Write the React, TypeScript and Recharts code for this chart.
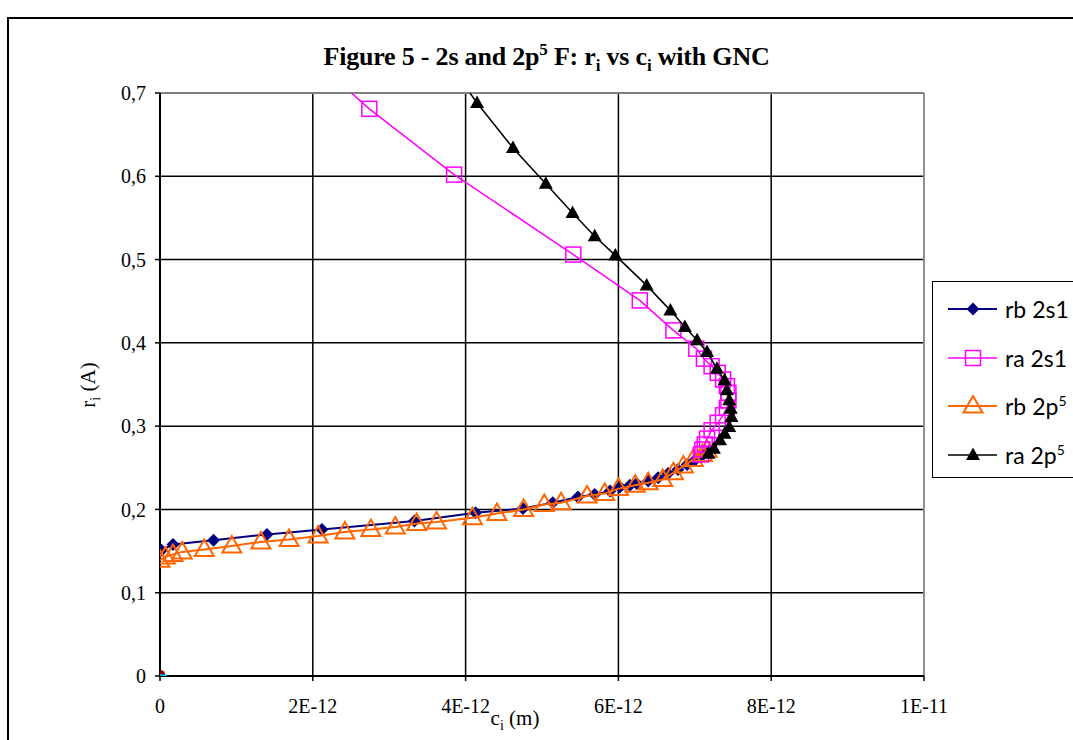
import {
	CartesianGrid,
	ComposedChart,
	ReferenceLine,
	Scatter,
	XAxis,
	YAxis,
} from "recharts";

// c in metres, r in Angstrom
const rb2s1C = [0.02e-12, 0.17e-12, 0.7e-12, 1.4e-12, 2.12e-12, 3.33e-12, 4.13e-12, 4.75e-12, 5.14e-12, 5.47e-12, 5.69e-12, 5.89e-12, 6.02e-12, 6.15e-12, 6.24e-12, 6.39e-12, 6.52e-12, 6.65e-12, 6.78e-12, 6.9e-12, 7.0e-12, 7.1e-12, 7.18e-12];
const rb2s1R = [0.151, 0.158, 0.163, 0.17, 0.176, 0.186, 0.196, 0.201, 0.208, 0.215, 0.218, 0.222, 0.227, 0.229, 0.231, 0.234, 0.238, 0.243, 0.248, 0.254, 0.259, 0.265, 0.27];

const ra2s1C = [7.08e-12, 7.1e-12, 7.13e-12, 7.16e-12, 7.22e-12, 7.3e-12, 7.37e-12, 7.42e-12, 7.44e-12, 7.44e-12, 7.42e-12, 7.37e-12, 7.3e-12, 7.22e-12, 7.12e-12, 7.02e-12, 6.72e-12, 6.28e-12, 5.41e-12, 3.85e-12, 2.74e-12, 1.95e-12];
const ra2s1R = [0.266, 0.272, 0.278, 0.285, 0.295, 0.304, 0.313, 0.322, 0.331, 0.34, 0.348, 0.356, 0.364, 0.372, 0.381, 0.393, 0.415, 0.451, 0.506, 0.602, 0.681, 0.745];

const rb2p5C = [0, 0.07e-12, 0.17e-12, 0.29e-12, 0.58e-12, 0.94e-12, 1.32e-12, 1.69e-12, 2.07e-12, 2.42e-12, 2.76e-12, 3.08e-12, 3.36e-12, 3.62e-12, 4.09e-12, 4.41e-12, 4.76e-12, 5.03e-12, 5.25e-12, 5.59e-12, 5.82e-12, 6.0e-12, 6.22e-12, 6.39e-12, 6.58e-12, 6.72e-12, 6.85e-12, 6.98e-12, 7.1e-12, 7.16e-12];
const rb2p5R = [0.139, 0.143, 0.146, 0.149, 0.152, 0.156, 0.161, 0.164, 0.168, 0.173, 0.176, 0.179, 0.183, 0.185, 0.19, 0.195, 0.2, 0.206, 0.208, 0.216, 0.219, 0.225, 0.229, 0.232, 0.236, 0.244, 0.252, 0.26, 0.266, 0.271];

const ra2p5C = [7.18e-12, 7.25e-12, 7.33e-12, 7.39e-12, 7.45e-12, 7.48e-12, 7.47e-12, 7.45e-12, 7.42e-12, 7.39e-12, 7.29e-12, 7.16e-12, 7.03e-12, 6.87e-12, 6.68e-12, 6.37e-12, 5.96e-12, 5.69e-12, 5.4e-12, 5.05e-12, 4.62e-12, 4.15e-12, 3.75e-12];
const ra2p5R = [0.267, 0.273, 0.283, 0.291, 0.299, 0.311, 0.321, 0.331, 0.343, 0.355, 0.369, 0.389, 0.403, 0.419, 0.439, 0.469, 0.505, 0.528, 0.556, 0.591, 0.634, 0.688, 0.74];

const zeroC = [0];
const zeroR = [0];

const xTicks = [0, 2e-12, 4e-12, 6e-12, 8e-12, 1e-11];
const xTickLabels = ["0", "2E-12", "4E-12", "6E-12", "8E-12", "1E-11"];
const yTicks = [0, 0.1, 0.2, 0.3, 0.4, 0.5, 0.6, 0.7];
const yTickLabels = ["0", "0,1", "0,2", "0,3", "0,4", "0,5", "0,6", "0,7"];

const zip = (cs: number[], rs: number[]) => cs.map((c, i) => ({ c, r: rs[i] }));

const NAVY = "#000080";
const MAGENTA = "#ff00ff";
const ORANGE = "#ff6600";
const BLACK = "#000000";

const serif = "'Liberation Serif', 'Times New Roman', serif";
const sans = "Lato, 'Liberation Sans', sans-serif";

const Diamond = ({ cx, cy }: any) => (
	<path d={`M${cx},${cy - 6.5}L${cx + 6.5},${cy}L${cx},${cy + 6.5}L${cx - 6.5},${cy}Z`} fill={NAVY} />
);
const Square = ({ cx, cy }: any) => (
	<rect x={cx - 7.5} y={cy - 7.5} width={15} height={15} fill="none" stroke={MAGENTA} strokeWidth={1.5} />
);
const OpenTriangle = ({ cx, cy }: any) => (
	<path d={`M${cx},${cy - 10}L${cx + 9.5},${cy + 6.5}L${cx - 9.5},${cy + 6.5}Z`} fill="none" stroke={ORANGE} strokeWidth={2} />
);
const FilledTriangle = ({ cx, cy }: any) => (
	<path d={`M${cx},${cy - 7.5}L${cx + 7},${cy + 5}L${cx - 7},${cy + 5}Z`} fill={BLACK} />
);
const ZeroMark = ({ cx, cy }: any) => (
	<g>
		<ellipse cx={cx + 1} cy={cy + 3} rx={6} ry={4} fill="#ffff00" />
		<ellipse cx={cx} cy={cy - 2} rx={5} ry={4} fill="#800000" />
		<rect x={cx - 6} y={cy - 1.5} width={13} height={4} fill="#00ccff" />
	</g>
);

const legendItems = [
	{ label: "rb 2s1", sup: "", color: NAVY, Marker: Diamond, width: 2 },
	{ label: "ra 2s1", sup: "", color: MAGENTA, Marker: Square, width: 1.5 },
	{ label: "rb 2p", sup: "5", color: ORANGE, Marker: OpenTriangle, width: 2 },
	{ label: "ra 2p", sup: "5", color: BLACK, Marker: FilledTriangle, width: 1.5 },
];

export default function App() {
	return (
		<div
			style={{
				position: "absolute",
				left: 0,
				top: 0,
				width: 1073,
				height: 740,
				overflow: "hidden",
				background: "#fff",
			}}
		>
			<div
				style={{
					position: "absolute",
					left: 7,
					top: 17,
					width: 1200,
					height: 1000,
					border: "2px solid #000",
				}}
			/>
			<div
				style={{
					position: "absolute",
					left: 0,
					width: 1073,
					top: 40,
					textAlign: "center",
					fontFamily: serif,
					fontWeight: "bold",
					fontSize: 26,
					letterSpacing: -0.2,
					paddingLeft: 20,
					boxSizing: "border-box",
				}}
			>
				Figure 5 - 2s and 2p<sup style={{ fontSize: 17 }}>5</sup> F: r
				<sub style={{ fontSize: 17 }}>i</sub> vs c<sub style={{ fontSize: 17 }}>i</sub> with GNC
			</div>
			<ComposedChart
				width={1073}
				height={740}
				margin={{ top: 93, right: 149, bottom: 0, left: 0 }}
				style={{ position: "absolute", left: 0, top: 0 }}
			>
				<CartesianGrid stroke="#000" strokeWidth={1.5} horizontalValues={yTicks} verticalValues={xTicks} />
				<XAxis
					type="number"
					dataKey="c"
					domain={[0, 1e-11]}
					allowDataOverflow
					ticks={xTicks}
					interval={0}
					height={64}
					tickSize={5}
					tickMargin={18}
					tickFormatter={(v: number) => xTickLabels[xTicks.indexOf(v)] ?? ""}
					tick={{ fill: "#000", fontFamily: serif, fontSize: 20 }}
					axisLine={{ stroke: "#000", strokeWidth: 2 }}
					tickLine={{ stroke: "#000", strokeWidth: 1.5 }}
				/>
				<YAxis
					type="number"
					dataKey="r"
					domain={[0, 0.7]}
					allowDataOverflow
					ticks={yTicks}
					interval={0}
					width={160}
					tickSize={5}
					tickMargin={9}
					tickFormatter={(v: number) => yTickLabels[yTicks.indexOf(v)] ?? ""}
					tick={{ fill: "#000", fontFamily: serif, fontSize: 20 }}
					axisLine={{ stroke: "#000", strokeWidth: 2 }}
					tickLine={{ stroke: "#000", strokeWidth: 1.5 }}
				/>
				<ReferenceLine y={0.7} stroke="#808080" strokeWidth={2} />
				<ReferenceLine x={1e-11} stroke="#909090" strokeWidth={2} />
				<Scatter data={zip(rb2s1C, rb2s1R)} line={{ stroke: NAVY, strokeWidth: 2 }} lineType="joint" shape={Diamond} isAnimationActive={false} />
				<Scatter data={zip(rb2p5C, rb2p5R)} line={{ stroke: ORANGE, strokeWidth: 2 }} lineType="joint" shape={OpenTriangle} isAnimationActive={false} />
				<Scatter data={zip(ra2s1C, ra2s1R)} line={{ stroke: MAGENTA, strokeWidth: 1.5 }} lineType="joint" shape={Square} isAnimationActive={false} />
				<Scatter data={zip(ra2p5C, ra2p5R)} line={{ stroke: BLACK, strokeWidth: 1.5 }} lineType="joint" shape={FilledTriangle} isAnimationActive={false} />
				<Scatter data={zip(zeroC, zeroR)} shape={ZeroMark} isAnimationActive={false} />
			</ComposedChart>
			<div
				style={{
					position: "absolute",
					left: 90,
					top: 385,
					transform: "translate(-50%, -50%) rotate(-90deg)",
					fontFamily: serif,
					fontSize: 21,
					whiteSpace: "nowrap",
				}}
			>
				r<sub style={{ fontSize: 14 }}>i</sub> (A)
			</div>
			<div
				style={{
					position: "absolute",
					left: 515,
					top: 720,
					transform: "translate(-50%, -50%)",
					fontFamily: serif,
					fontSize: 21,
					whiteSpace: "nowrap",
				}}
			>
				c<sub style={{ fontSize: 14 }}>i</sub> (m)
			</div>
			<div
				style={{
					position: "absolute",
					left: 932,
					top: 281,
					width: 200,
					height: 195,
					border: "1.5px solid #000",
					background: "#fff",
				}}
			>
				{legendItems.map((it, i) => (
					<div
						key={it.label + i}
						style={{
							position: "absolute",
							left: 0,
							top: 11 + i * 48.7,
							height: 32,
							display: "flex",
							alignItems: "center",
						}}
					>
						<svg width={66} height={32} style={{ flex: "none" }}>
							<line x1={15} x2={64} y1={16} y2={16} stroke={it.color} strokeWidth={it.width} />
							<it.Marker cx={40} cy={16} />
						</svg>
						<span style={{ fontFamily: sans, fontSize: 23, marginLeft: 6, whiteSpace: "nowrap" }}>
							{it.label}
							{it.sup && <sup style={{ fontSize: 14 }}>{it.sup}</sup>}
						</span>
					</div>
				))}
			</div>
		</div>
	);
}
